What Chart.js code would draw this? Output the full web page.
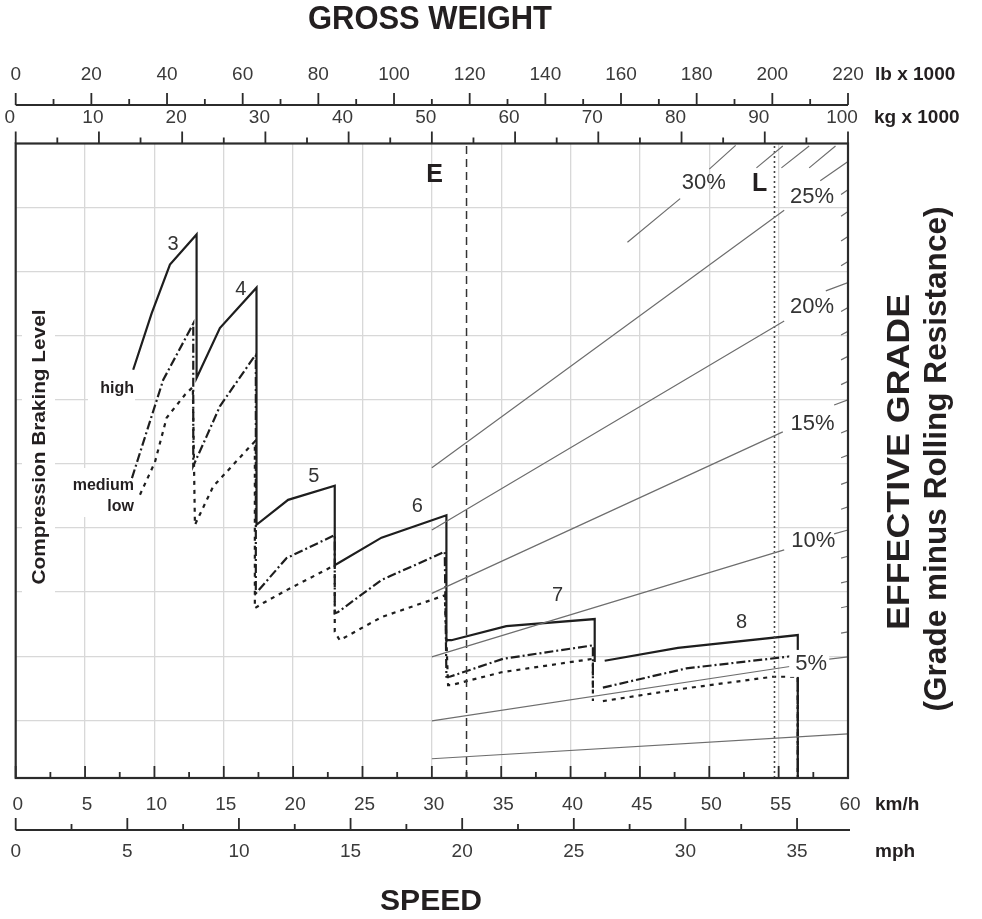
<!DOCTYPE html>
<html>
<head>
<meta charset="utf-8">
<script src="https://cdn.jsdelivr.net/npm/chart.js@4.4.1/dist/chart.umd.min.js"></script>
<style>
  html, body { margin: 0; padding: 0; background: #fff; }
  canvas { display: block; }
</style>
</head>
<body>
<canvas id="brakeChart" width="982" height="919" style="width:982px;height:919px"></canvas>
<script>
// speed in km/h, braking level in grid units, null = gap between gears 7 and 8
const highSpeed = [8.47, 9.80, 11.12, 13.04, 13.04, 14.72, 17.36, 17.36, 19.64, 23.00, 23.00, 23.24, 26.37, 31.05, 31.05, 31.41, 35.37, 41.74, 41.74, null, 42.46, 47.74, 56.38, 56.38];
const highLevel = [6.47, 7.35, 8.11, 8.58, 6.34, 7.12, 7.75, 4.05, 4.44, 4.66, 3.42, 3.45, 3.85, 4.20, 2.25, 2.25, 2.47, 2.58, 1.91, null, 1.93, 2.13, 2.33, 0.1];

const mediumSpeed = [8.38, 10.63, 12.68, 12.80, 12.80, 13.76, 14.72, 17.12, 17.31, 17.31, 19.52, 23.00, 23.00, 23.24, 26.37, 30.93, 31.05, 31.29, 35.13, 41.61, 41.61, null, 42.33, 48.34, 55.55, 56.38, 56.38];
const mediumLevel = [4.78, 6.31, 7.14, 7.19, 4.97, 5.43, 5.90, 6.65, 6.70, 2.98, 3.53, 3.89, 2.67, 2.69, 3.19, 3.63, 1.68, 1.68, 1.96, 2.17, 1.51, null, 1.51, 1.81, 1.99, 2.02, 0.1];

const lowSpeed = [8.96, 10.04, 10.88, 12.20, 12.77, 12.92, 14.24, 16.88, 17.24, 17.24, 17.84, 19.52, 23.00, 23.00, 23.36, 26.37, 30.93, 31.17, 31.41, 35.02, 41.61, 41.61, null, 42.33, 48.34, 54.58, 56.38, 56.38];
const lowLevel = [4.52, 5.03, 5.72, 6.08, 6.20, 4.05, 4.65, 5.27, 5.35, 2.75, 2.83, 3.03, 3.42, 2.38, 2.25, 2.61, 2.95, 1.55, 1.55, 1.75, 1.96, 1.30, null, 1.30, 1.50, 1.68, 1.68, 0.1];

// effective grade lines (segments, split where a label sits)
const gradeX1 = [30, 30, 58.5, 30, 59.0, 30, 59.0, 30, 58.4, 30, 58.0, 44.1, 50.0, 53.4, 55.2, 57.2];
const gradeY1 = [0.40, 0.99, 1.95, 1.99, 3.91, 2.98, 5.92, 3.97, 7.70, 4.94, 9.42, 8.46, 9.60, 9.62, 9.62, 9.62];
const gradeX2 = [60, 55.8, 60, 55.4, 60, 55.3, 60, 55.4, 60, 55.4, 60, 47.9, 51.9, 55.3, 57.2, 59.1];
const gradeY2 = [0.79, 1.84, 1.99, 3.66, 3.97, 5.50, 6.00, 7.23, 7.83, 8.96, 9.72, 9.14, 9.97, 9.96, 9.96, 9.96];

// 1 % grade ticks on the right edge
const gradeTickPct = [6, 7, 8, 9, 11, 12, 13, 14, 16, 17, 18, 19, 21, 22, 23, 24];
const gradeTickLevel = [2.38, 2.78, 3.17, 3.56, 4.33, 4.72, 5.14, 5.53, 6.29, 6.68, 7.07, 7.44, 8.16, 8.55, 8.94, 9.28];

const gradeLabels = ['30%', '25%', '20%', '15%', '10%', '5%'];
const gradeLabelX = [49.6, 57.4, 57.4, 57.45, 57.5, 57.35];
const gradeLabelY = [9.38, 9.16, 7.45, 5.63, 3.80, 1.88];

const gearLabels = ['3', '4', '5', '6', '7', '8'];
const gearLabelX = [11.35, 16.22, 21.49, 28.95, 39.07, 52.33];
const gearLabelY = [8.43, 7.72, 4.81, 4.34, 2.94, 2.53];

const speedE = 32.5;
const speedL = 54.7;

const kmhLabels = [0, 5, 10, 15, 20, 25, 30, 35, 40, 45, 50, 55, 60];
const mphLabels = [0, 5, 10, 15, 20, 25, 30, 35];
const lbLabels = [0, 20, 40, 60, 80, 100, 120, 140, 160, 180, 200, 220];
const kgLabels = [0, 10, 20, 30, 40, 50, 60, 70, 80, 90, 100];
const gridSpeed = [5, 10, 15, 20, 25, 30, 35, 40, 45, 50, 55];
const gridLevel = [1, 2, 3, 4, 5, 6, 7, 8, 9];

function toPoints(xs, ys) {
  return xs.map((x, i) => x === null ? { x: null, y: null } : { x: x, y: ys[i] });
}

function segPoints(x1, y1, x2, y2) {
  const out = [];
  x1.forEach((x, i) => {
    out.push({ x: x, y: y1[i] }, { x: x2[i], y: y2[i] }, { x: null, y: null });
  });
  return out;
}

const tickPts = [];
gradeTickPct.forEach((g, i) => {
  const lv = gradeTickLevel[i];
  tickPts.push({ x: 59.5, y: lv * 59.5 / 60 }, { x: 60, y: lv }, { x: null, y: null });
});

const INK = '#231f20';
const FONT = '"Liberation Sans", Arial, sans-serif';

function text(ctx, s, x, y, font, opt) {
  opt = opt || {};
  ctx.save();
  ctx.font = font;
  ctx.fillStyle = opt.color || INK;
  ctx.textAlign = opt.align || 'center';
  ctx.textBaseline = 'middle';
  ctx.translate(x, y);
  if (opt.rot) ctx.rotate(opt.rot);
  if (opt.width) {
    const w = ctx.measureText(s).width;
    ctx.scale(opt.width / w, 1);
  }
  ctx.fillText(s, 0, 0);
  ctx.restore();
}

function tickRow(ctx, scale, values, step, y, majLen, minLen) {
  ctx.beginPath();
  values.forEach((v, i) => {
    const px = scale.getPixelForValue(v);
    ctx.moveTo(px, y);
    ctx.lineTo(px, y - majLen);
    if (i < values.length - 1) {
      const mx = scale.getPixelForValue(v + step / 2);
      ctx.moveTo(mx, y);
      ctx.lineTo(mx, y - minLen);
    }
  });
  ctx.stroke();
}

const nomogram = {
  id: 'nomogram',
  beforeDatasetsDraw(chart) {
    const ctx = chart.ctx;
    ctx.save();
    ctx.fillStyle = '#fff';
    ctx.fillRect(22, 295, 33, 302);
    ctx.fillRect(88, 372, 47, 30);
    ctx.fillRect(55, 468, 80, 49);
    ctx.restore();
  },
  afterDatasetsDraw(chart) {
    const ctx = chart.ctx;
    const a = chart.chartArea;
    const xs = chart.scales.x, ys = chart.scales.y;
    const kg = chart.scales.kg, lb = chart.scales.lb, mph = chart.scales.mph;

    // white patch behind the 5% label
    const p5x = xs.getPixelForValue(gradeLabelX[5]);
    const p5y = ys.getPixelForValue(gradeLabelY[5]);
    ctx.save();
    ctx.fillStyle = '#fff';
    ctx.fillRect(p5x - 22, p5y - 14, 40, 27);
    ctx.restore();

    // frame
    ctx.save();
    ctx.strokeStyle = '#2b2b2b';
    ctx.lineWidth = 2.2;
    ctx.strokeRect(a.left, a.top, a.right - a.left, a.bottom - a.top);

    // km/h ticks on the bottom edge
    ctx.lineWidth = 1.8;
    tickRow(ctx, xs, kmhLabels, 5, a.bottom, 12, 6);
    // kg ticks on the top edge
    tickRow(ctx, kg, kgLabels, 10, a.top, 12, 6);

    // lb axis
    const lbY = 105;
    ctx.lineWidth = 2.2;
    ctx.beginPath();
    ctx.moveTo(lb.getPixelForValue(0), lbY);
    ctx.lineTo(lb.getPixelForValue(220), lbY);
    ctx.stroke();
    ctx.lineWidth = 1.8;
    tickRow(ctx, lb, lbLabels, 20, lbY, 12, 6);

    // mph axis
    const mphY = 830;
    ctx.lineWidth = 2.2;
    ctx.beginPath();
    ctx.moveTo(a.left, mphY);
    ctx.lineTo(a.right + 2, mphY);
    ctx.stroke();
    ctx.lineWidth = 1.8;
    tickRow(ctx, mph, mphLabels, 5, mphY, 12, 6);
    ctx.restore();

    const numFont = '19px ' + FONT;
    const numCol = '#3a3a3a';
    lbLabels.forEach(v => text(ctx, String(v), lb.getPixelForValue(v), 75, numFont, { color: numCol }));
    kgLabels.forEach(v => text(ctx, String(v), kg.getPixelForValue(v) - 6, 118, numFont, { color: numCol }));
    kmhLabels.forEach(v => text(ctx, String(v), xs.getPixelForValue(v) + 2, 805, numFont, { color: numCol }));
    mphLabels.forEach(v => text(ctx, String(v), mph.getPixelForValue(v), 852, numFont, { color: numCol }));

    const unitFont = 'bold 19px ' + FONT;
    text(ctx, 'lb x 1000', 875, 75, unitFont, { align: 'left' });
    text(ctx, 'kg x 1000', 874, 118, unitFont, { align: 'left' });
    text(ctx, 'km/h', 875, 805, unitFont, { align: 'left' });
    text(ctx, 'mph', 875, 852, unitFont, { align: 'left' });

    // titles
    text(ctx, 'GROSS WEIGHT', 430, 20, 'bold 33px ' + FONT, { width: 244 });
    text(ctx, 'SPEED', 431, 902, 'bold 30px ' + FONT, { width: 102 });
    text(ctx, 'EFFECTIVE GRADE', 900, 462, 'bold 31px ' + FONT, { rot: -Math.PI / 2, width: 336 });
    text(ctx, '(Grade minus Rolling Resistance)', 937, 459, 'bold 31px ' + FONT, { rot: -Math.PI / 2, width: 505 });
    text(ctx, 'Compression Braking Level', 40, 447, 'bold 18px ' + FONT, { rot: -Math.PI / 2, width: 275 });

    // braking level names
    const lvlFont = 'bold 16px ' + FONT;
    text(ctx, 'high', 134, 389, lvlFont, { align: 'right' });
    text(ctx, 'medium', 134, 486, lvlFont, { align: 'right' });
    text(ctx, 'low', 134, 507, lvlFont, { align: 'right' });

    // gears
    gearLabels.forEach((g, i) => text(ctx, g, xs.getPixelForValue(gearLabelX[i]), ys.getPixelForValue(gearLabelY[i]), '20px ' + FONT, { color: '#333' }));

    // grades
    gradeLabels.forEach((g, i) => text(ctx, g, xs.getPixelForValue(gradeLabelX[i]), ys.getPixelForValue(gradeLabelY[i]), '22px ' + FONT, { color: '#333' }));

    // E and L markers
    text(ctx, 'E', xs.getPixelForValue(30.2), ys.getPixelForValue(9.5), 'bold 25px ' + FONT);
    text(ctx, 'L', xs.getPixelForValue(53.63), ys.getPixelForValue(9.36), 'bold 25px ' + FONT);
  }
};

const lineBase = { showLine: true, pointRadius: 0, fill: false, tension: 0, spanGaps: false };

const chartConfig = {
  type: 'scatter',
  data: {
    datasets: [
      Object.assign({ label: 'grade', data: segPoints(gradeX1, gradeY1, gradeX2, gradeY2), borderColor: '#6e6e6e', borderWidth: 1.2 }, lineBase),
      Object.assign({ label: 'grade ticks', data: tickPts, borderColor: '#6e6e6e', borderWidth: 1.2 }, lineBase),
      Object.assign({ label: 'E', data: [{ x: speedE, y: 0.1 }, { x: speedE, y: 10 }], borderColor: '#333', borderWidth: 1.5, borderDash: [8, 5] }, lineBase),
      Object.assign({ label: 'L', data: [{ x: speedL, y: 0.1 }, { x: speedL, y: 10 }], borderColor: '#444', borderWidth: 1.6, borderDash: [2, 3] }, lineBase),
      Object.assign({ label: 'low', data: toPoints(lowSpeed, lowLevel), borderColor: '#1e1e1e', borderWidth: 2.2, borderDash: [4, 5] }, lineBase),
      Object.assign({ label: 'medium', data: toPoints(mediumSpeed, mediumLevel), borderColor: '#1e1e1e', borderWidth: 2.2, borderDash: [9, 3, 2, 3] }, lineBase),
      Object.assign({ label: 'high', data: toPoints(highSpeed, highLevel), borderColor: '#1e1e1e', borderWidth: 2.2 }, lineBase)
    ]
  },
  options: {
    responsive: false,
    animation: false,
    events: [],
    layout: { padding: { left: 15.7, right: 134, top: 143.5, bottom: 141 } },
    plugins: { legend: { display: false }, tooltip: { enabled: false } },
    scales: {
      x: {
        type: 'linear', min: 0, max: 60,
        afterBuildTicks: s => { s.ticks = gridSpeed.map(v => ({ value: v })); },
        ticks: { display: false },
        grid: { color: '#d8d8d8', lineWidth: 1.3, drawTicks: false },
        border: { display: false }
      },
      y: {
        type: 'linear', min: 0.1, max: 10,
        afterBuildTicks: s => { s.ticks = gridLevel.map(v => ({ value: v })); },
        ticks: { display: false },
        grid: { color: '#d8d8d8', lineWidth: 1.3, drawTicks: false },
        border: { display: false }
      },
      kg: { type: 'linear', axis: 'x', position: 'top', min: 0, max: 100, display: false },
      lb: { type: 'linear', axis: 'x', position: 'top', min: 0, max: 220, display: false },
      mph: { type: 'linear', axis: 'x', position: 'bottom', min: 0, max: 60 / 1.609344, display: false }
    }
  },
  plugins: [nomogram]
};

const ctx = document.getElementById('brakeChart').getContext('2d');
const myChart = new Chart(ctx, chartConfig);
</script>
</body>
</html>
